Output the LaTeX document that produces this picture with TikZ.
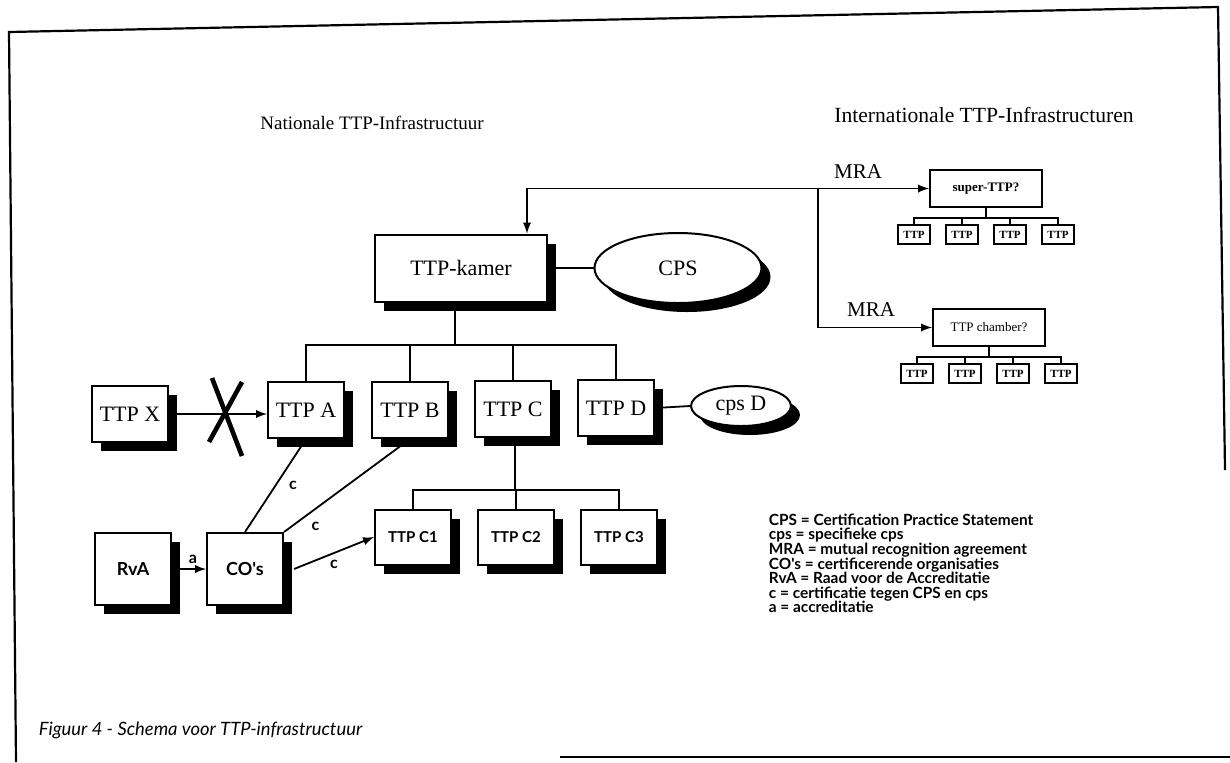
\documentclass[tikz,border=0pt]{standalone}
\usepackage{fontspec}
\setmainfont{Liberation Serif}
\newfontfamily\optfont{Lato}
\usetikzlibrary{shapes,arrows,trees,shadows}

\begin{document}
\begin{tikzpicture}[x=0.5pt,y=-0.5pt,line width=0.9pt,
  box/.style={draw,fill=white,line width=1pt,inner sep=0pt,
    drop shadow={shadow xshift=4.5pt,shadow yshift=-4.5pt,fill=black,opacity=1}},
  bigbox/.style={box,minimum width=38pt,minimum height=28pt,font=\fontsize{11}{12}\selectfont},
  subbox/.style={box,minimum width=38pt,minimum height=27.5pt,font=\optfont\bfseries\fontsize{7.5}{8}\selectfont},
  orgbox/.style={box,minimum width=38pt,minimum height=36pt,font=\optfont\bfseries\fontsize{9}{10}\selectfont},
  blob/.style={ellipse,box,font=\fontsize{11}{12}\selectfont},
  intbox/.style={draw,fill=white,line width=1pt,minimum width=56pt,minimum height=18.5pt,inner sep=0pt},
  ttpbox/.style={draw,line width=1pt,minimum width=16pt,minimum height=9.5pt,inner sep=0pt,font=\bfseries\fontsize{5.5}{6}\selectfont},
  clabel/.style={font=\optfont\bfseries\fontsize{8}{9}\selectfont},
  head/.style={font=\fontsize{9.5}{11}\selectfont},
  intedge/.style={level distance=23pt,sibling distance=24pt,
    edge from parent path={(\tikzparentnode.south) -- ++(0,10) -| (\tikzchildnode.north)}}]
\useasboundingbox (0,0) rectangle (1230,762);
\draw[line width=1.1pt] (16,762) -- (9,32) -- (1218,7) -- (1225,470);
\draw[line width=1.1pt] (560,757) -- (1230,757);

\node[head] (nat) at (372,123) {Nationale TTP-Infrastructuur};
\node[head,font=\fontsize{10.8}{12}\selectfont] (int) at (984,115) {Internationale TTP-Infrastructuren};

\node[box,minimum width=86pt,minimum height=33.5pt,font=\fontsize{11}{12}\selectfont] (kamer) at (461,268) {TTP-kamer};
\node[blob,minimum width=83.5pt,minimum height=35pt] (cps) at (678,268) {CPS};
\draw (kamer.east) -- (cps.west);

\node[bigbox] (ttpx) at (130,414) {TTP X};
\node[bigbox] (ttpa) at (306,410) {TTP A};
\node[bigbox] (ttpb) at (410,410) {TTP B};
\node[bigbox] (ttpc) at (513,409) {TTP C};
\node[bigbox] (ttpd) at (616,408) {TTP D};
\node[blob,minimum width=50pt,minimum height=20pt] (cpsd) at (741,406) {cps D};
\draw (ttpd.east) -- (cpsd.west);

\coordinate (kbus) at (455,345);
\draw (kamer.south -| kbus) -- (kbus);
\draw (ttpa.north) |- (kbus) -| (ttpd.north);
\draw (ttpb.north) -- (ttpb.north |- kbus);
\draw (ttpc.north) -- (ttpc.north |- kbus);

\draw[-latex] (ttpx.east) -- (ttpx.east -| ttpa.west);
\draw[line width=2.3pt] (212,378) -- (242,456);
\draw[line width=2.3pt] (242,382) -- (209,442);

\node[subbox] (ttpca) at (413,537) {TTP C1};
\node[subbox] (ttpcb) at (516,537) {TTP C2};
\node[subbox] (ttpcc) at (619,537) {TTP C3};
\coordinate (cbus) at (515,490);
\draw (ttpc.south -| cbus) -- (cbus);
\draw (ttpca.north) |- (cbus) -| (ttpcc.north);
\draw (ttpcb.north) -- (ttpcb.north |- cbus);

\node[orgbox] (rva) at (133,569) {RvA};
\node[orgbox] (cos) at (245,569) {CO's};
\draw[-latex] ([xshift=4pt]rva.east) -- (cos.west) node[clabel,midway,above=-1pt] {a};
\draw (cos.north) -- (ttpa.south) node[clabel,midway,right=3pt] {c};
\draw (cos.north east) -- (ttpb.south) node[clabel,pos=0.25,below=3pt] {c};
\draw[-latex] ([xshift=5pt]cos.east) -- (ttpca.west) node[clabel,midway,below=0pt] {c};

\node[intbox,font=\bfseries\fontsize{6.5}{7}\selectfont] (super) at (986,188.5) {super-TTP?}
  [intedge]
  child {node[ttpbox] (sa) {TTP}}
  child {node[ttpbox] (sb) {TTP}}
  child {node[ttpbox] (sc) {TTP}}
  child {node[ttpbox] (sd) {TTP}};
\node[intbox,font=\fontsize{6.5}{7}\selectfont] (chamber) at (989,327.5) {TTP chamber?}
  [intedge]
  child {node[ttpbox] (ca) {TTP}}
  child {node[ttpbox] (cb) {TTP}}
  child {node[ttpbox] (cc) {TTP}}
  child {node[ttpbox] (cd) {TTP}};

\coordinate (mra) at (818,188.5);
\draw[latex-latex] ([xshift=33pt]kamer.north) |- (super.west);
\draw[-latex] (mra) |- (chamber.west);
\node[font=\fontsize{10.5}{12}\selectfont] (mraa) at (858,172) {MRA};
\node[font=\fontsize{10.5}{12}\selectfont] (mrab) at (871,310) {MRA};

\node[anchor=north west,align=left,inner sep=0pt,font=\optfont\bfseries\fontsize{7.7}{7.3}\selectfont\setlength\lineskiplimit{-10pt}] (legend) at (768,513)
  {CPS = Certification Practice Statement\\
   cps = specifieke cps\\
   MRA = mutual recognition agreement\\
   CO's = certificerende organisaties\\
   RvA = Raad voor de Accreditatie\\
   c = certificatie tegen CPS en cps\\
   a = accreditatie};
\node[anchor=west,inner sep=0pt,font=\optfont\itshape\fontsize{9.2}{10}\selectfont] (caption) at (38,730) {Figuur 4 - Schema voor TTP-infrastructuur};
\end{tikzpicture}
\end{document}
